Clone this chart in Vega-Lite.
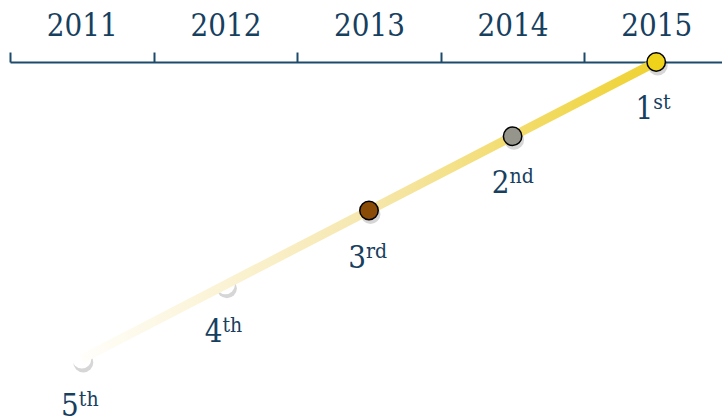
{
  "$schema": "https://vega.github.io/schema/vega-lite/v6.json",
  "width": 712,
  "height": 297,
  "autosize": "none",
  "padding": {"left": 10, "top": 62, "right": 0, "bottom": 57},
  "config": {"view": {"stroke": null}},
  "data": {
    "values": [
      {"year": "2011", "rank": 5, "num": "5", "suffix": "th"},
      {"year": "2012", "rank": 4, "num": "4", "suffix": "th"},
      {"year": "2013", "rank": 3, "num": "3", "suffix": "rd"},
      {"year": "2014", "rank": 2, "num": "2", "suffix": "nd"},
      {"year": "2015", "rank": 1, "num": "1", "suffix": "st"}
    ]
  },
  "encoding": {
    "x": {
      "field": "year",
      "type": "ordinal",
      "scale": {"type": "band", "range": [0, 718], "paddingInner": 0, "paddingOuter": 0},
      "axis": {
        "orient": "top",
        "title": null,
        "labelAngle": 0,
        "labelFont": "'DejaVu Serif Condensed', 'Liberation Serif', serif",
        "labelFontSize": 31,
        "labelColor": "#17405f",
        "labelPadding": 10,
        "domainColor": "#1d4a6a",
        "domainWidth": 2,
        "tickColor": "#1d4a6a",
        "tickWidth": 2,
        "tickSize": 10,
        "tickBand": "extent"
      }
    },
    "y": {
      "field": "rank",
      "type": "quantitative",
      "scale": {"domain": [1, 5], "range": [0, 297]},
      "axis": null
    }
  },
  "layer": [
    {
      "mark": {"type": "point", "filled": true, "color": "#000000", "opacity": 0.16, "size": 400, "xOffset": 1.5, "yOffset": 3.5}
    },
    {
      "transform": [{"filter": "datum.rank >= 4"}],
      "mark": {"type": "point", "filled": true, "opacity": 1, "size": 360, "color": "#ffffff"}
    },
    {
      "mark": {
        "type": "line",
        "strokeWidth": 9,
        "strokeCap": "butt",
        "color": {
          "gradient": "linear",
          "x1": 0, "y1": 0, "x2": 1, "y2": 0,
          "stops": [
            {"offset": 0, "color": "#fffefa"},
            {"offset": 0.5, "color": "#f6e7ad"},
            {"offset": 1, "color": "#efd230"}
          ]
        }
      },
      "encoding": {}
    },
    {
      "transform": [{"filter": "datum.rank <= 3"}],
      "mark": {"type": "point", "filled": true, "opacity": 1, "size": 340, "stroke": "#000000", "strokeWidth": 1.5},
      "encoding": {
        "fill": {
          "field": "rank",
          "type": "ordinal",
          "scale": {"domain": [1, 2, 3], "range": ["#efd21a", "#96958c", "#8a4b06"]},
          "legend": null
        }
      }
    },
    {
      "mark": {"type": "text", "font": "'DejaVu Serif Condensed', 'Liberation Serif', serif", "fontSize": 31, "color": "#17405f", "align": "right", "baseline": "alphabetic", "dx": -3, "dy": 57},
      "encoding": {"text": {"field": "num"}}
    },
    {
      "mark": {"type": "text", "font": "'DejaVu Serif Condensed', 'Liberation Serif', serif", "fontSize": 21, "color": "#17405f", "align": "left", "baseline": "alphabetic", "dx": -3, "dy": 47},
      "encoding": {"text": {"field": "suffix"}}
    }
  ]
}
